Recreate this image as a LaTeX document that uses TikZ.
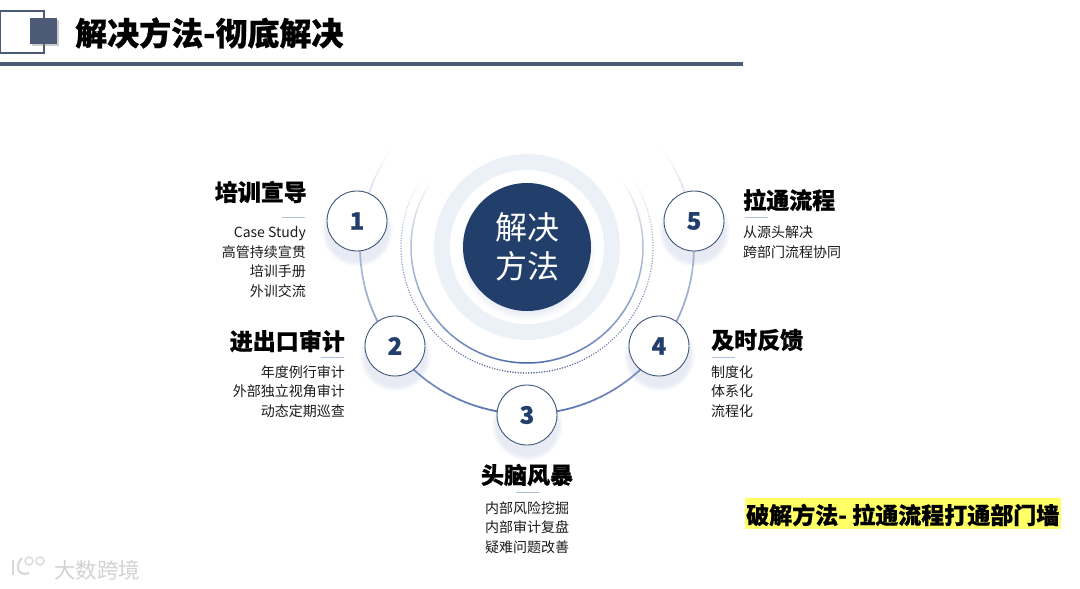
\documentclass[tikz,border=0pt]{standalone}
\usepackage{fontspec}
\setmainfont{Noto Sans CJK SC}[BoldFeatures={FakeBold=0.7}]
\usetikzlibrary{shadows, fadings}

\definecolor{slatebar}{HTML}{4C5A75}
\definecolor{hubblue}{HTML}{223F6B}
\definecolor{ringblue}{HTML}{ECF1F8}
\definecolor{arcblue}{HTML}{4A68A8}
\definecolor{dotblue}{HTML}{4F5F94}
\definecolor{nodeline}{HTML}{3F5578}
\definecolor{ruleblue}{HTML}{AFC0D8}
\definecolor{notebar}{HTML}{FFFF66}
\definecolor{bodytext}{HTML}{1A1A1A}

\tikzset{
    numnode/.style={draw=nodeline, line width=0.9pt, fill=white, circle, minimum size=60pt, inner sep=0pt,
        text=hubblue, font=\fontsize{24}{24}\selectfont\bfseries,
        circular drop shadow={shadow xshift=0pt, shadow yshift=-8pt, shadow scale=1.2, fill=arcblue, opacity=0.13}},
    headtext/.style={inner sep=0pt, text=black, font=\fontsize{23}{23}\selectfont\bfseries},
    bodynote/.style={inner sep=0pt, text=bodytext, font=\fontsize{14}{19.7}\selectfont},
    headrule/.style={draw=ruleblue, line width=0.8pt},
    logoline/.style={draw=gray!30, line width=2.2pt}
}

\begin{document}
\begin{tikzpicture}[x=1pt, y=-1pt]
    \useasboundingbox (0,0) rectangle (1080,589);

    % Header
    \draw[slatebar, line width=1.5pt, fill=white] (0,11) rectangle (44,53);
    \fill[slatebar, drop shadow={shadow xshift=2pt, shadow yshift=-2pt, opacity=0.4}] (30,18) rectangle (57,44);
    \node[inner sep=0pt, anchor=west, font=\fontsize{32}{32}\selectfont\bfseries] (title) at (75,33) {解决方法-彻底解决};
    \fill[slatebar] (0,62) rectangle (743,66);

    % Rings around the hub
    \fill[ringblue] (527,247) circle[radius=93pt];
    \fill[white] (527,247) circle[radius=77pt];

    % Arcs, fading out towards the top
    \foreach \a in {144,146,...,394} {
        \pgfmathtruncatemacro{\dd}{abs(\a+1-270)}
        \pgfmathtruncatemacro{\pp}{\dd<90 ? 100-58*\dd/90 : 42*(126-\dd)/36}
        \draw[arcblue!\pp, line width=1.7pt] ({527+167*cos(\a)},{247-167*sin(\a)}) -- ({527+167*cos(\a+2.2)},{247-167*sin(\a+2.2)});
        \draw[arcblue!\pp, line width=1.5pt] ({527+116*cos(\a)},{247-116*sin(\a)}) -- ({527+116*cos(\a+2.2)},{247-116*sin(\a+2.2)});
    }
    % Dotted ring
    \foreach \a in {146,147.2,...,394} {
        \pgfmathtruncatemacro{\dd}{abs(\a-270)}
        \pgfmathtruncatemacro{\pp}{\dd<90 ? 100-50*\dd/90 : 50*(124-\dd)/34}
        \fill[dotblue!\pp] ({527+126*cos(\a)},{247-126*sin(\a)}) circle[radius=0.85pt];
    }

    % Hub
    \node[circle, fill=hubblue, minimum size=128pt, inner sep=0pt, align=center, text=white,
        font=\fontsize{32}{39}\selectfont,
        circular drop shadow={shadow xshift=0pt, shadow yshift=-5pt, shadow scale=1.06, fill=arcblue, opacity=0.14}] (hub) at (527,247) {解决\\方法};

    % Numbered nodes
    \node[numnode] (nd1) at (357,221) {1};
    \node[numnode] (nd2) at (395,346) {2};
    \node[numnode] (nd3) at (527,415) {3};
    \node[numnode] (nd4) at (659,346) {4};
    \node[numnode] (nd5) at (694,221) {5};

    % Left texts
    \node[headtext, anchor=east] (head1) at (307,192) {培训宣导};
    \draw[headrule] (282,217.5) -- (305,217.5);
    \node[bodynote, anchor=north east, align=right] (body1) at (306,226) {Case Study\\高管持续宣贯\\培训手册\\外训交流};

    \node[headtext, anchor=east] (head2) at (345,341) {进出口审计};
    \draw[headrule] (321,357.5) -- (344,357.5);
    \node[bodynote, anchor=north east, align=right] (body2) at (345,365) {年度例行审计\\外部独立视角审计\\动态定期巡查};

    % Bottom text
    \node[headtext] (head3) at (527,475) {头脑风暴};
    \draw[headrule] (516,492.5) -- (539,492.5);
    \node[bodynote, anchor=north, align=center] (body3) at (527,501) {内部风险挖掘\\内部审计复盘\\疑难问题改善};

    % Right texts
    \node[headtext, anchor=west] (head4) at (711,340) {及时反馈};
    \draw[headrule] (712,357.5) -- (735,357.5);
    \node[bodynote, anchor=north west, align=left] (body4) at (711,365) {制度化\\体系化\\流程化};

    \node[headtext, anchor=west] (head5) at (743,200) {拉通流程};
    \draw[headrule] (745,217.5) -- (768,217.5);
    \node[bodynote, anchor=north west, align=left] (body5) at (743,226) {从源头解决\\跨部门流程协同};

    % Highlighted note
    \fill[notebar] (745,498) rectangle (1061,529);
    \node[inner sep=0pt, anchor=west, font=\fontsize{23}{23}\selectfont\bfseries] (note) at (746,515) {破解方法- 拉通流程打通部门墙};

    % Watermark
    \draw[logoline] (13,560) -- (13,575);
    \draw[logoline] (22,558) .. controls (15,565) and (17,577) .. (29,573);
    \draw[gray!30, line width=1.4pt] (29,561) circle[radius=4pt];
    \draw[gray!30, line width=1.4pt] (40,561) circle[radius=4pt];
    \node[inner sep=0pt, anchor=west, text=gray!35, font=\fontsize{21.5}{21.5}\selectfont] (mark) at (54,570) {大数跨境};
\end{tikzpicture}
\end{document}
